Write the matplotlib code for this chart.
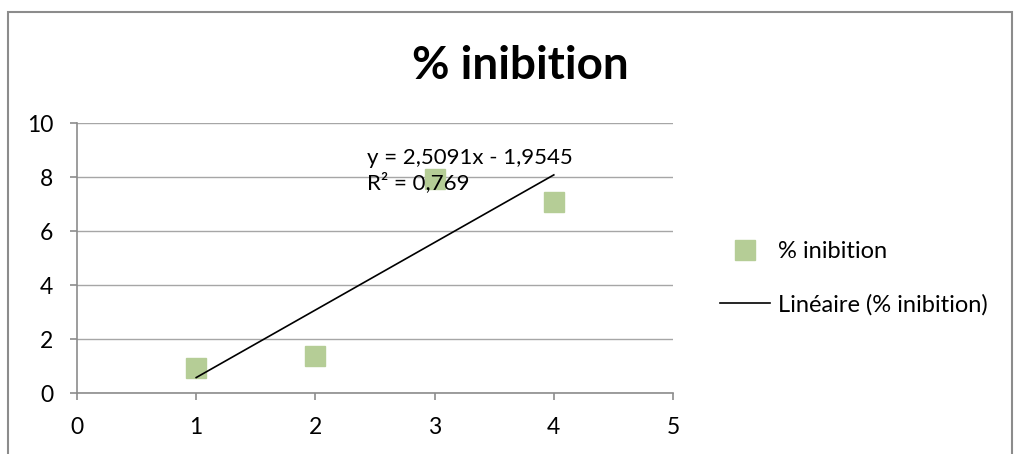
import matplotlib.pyplot as plt
import matplotlib.patches as patches
import numpy as np

plt.rcParams['font.family'] = ['Lato', 'DejaVu Sans']

# data
x = [1, 2, 3, 4]
inibition = [0.93, 1.37, 7.91, 7.09]
eq_lines = ['y = 2,5091x - 1,9545', 'R² = 0,769']

fig = plt.figure(figsize=(10.14, 4.54), dpi=100)
ax = fig.add_axes([77/1014, 61/454, 596/1014, 270/454])

# chart border (excel style)
border = patches.Rectangle((8/1014, -0.1), 1004/1014, 1.1 - 12/454,
                           transform=fig.transFigure, fill=False,
                           edgecolor='#8c8c8c', linewidth=1.5, clip_on=False)
fig.patches.append(border)

green = '#b5cd96'
ax.plot(x, inibition, 's', color=green, ms=14.5, label='% inibition', zorder=3)

# linear trend
a, b = np.polyfit(x, inibition, 1)
xt = np.array([x[0], x[-1]])
ax.plot(xt, a*xt + b, color='black', lw=1.2, label='Linéaire (% inibition)', zorder=4)

ax.text(2.433, 8.7, eq_lines[0], fontsize=16, va='center', ha='left', zorder=5)
ax.text(2.433, 7.78, eq_lines[1], fontsize=16, va='center', ha='left', zorder=5)

ax.set_xlim(0, 5)
ax.set_ylim(0, 10)
ax.set_xticks(range(0, 6))
ax.set_yticks(range(0, 11, 2))
ax.yaxis.grid(True, color='#a6a6a6', lw=1)
ax.set_axisbelow(True)
for s in ['top', 'right']:
    ax.spines[s].set_visible(False)
for s in ['left', 'bottom']:
    ax.spines[s].set_color('#8c8c8c')
    ax.spines[s].set_linewidth(1.2)
ax.tick_params(axis='both', colors='#8c8c8c', labelcolor='black', labelsize=16.5,
               length=5, width=1.2)
ax.tick_params(axis='x', pad=12)
ax.tick_params(axis='y', pad=12)

fig.text(520/1014, 1 - 66/454, '% inibition', fontsize=33, fontweight='bold',
         ha='center', va='center')

fig.legend(loc='center left', bbox_to_anchor=(720/1014, 1 - 278/454),
           frameon=False, fontsize=17, handlelength=2.1, labelspacing=1.35,
           handletextpad=0.35, borderpad=0, borderaxespad=0)

fig.savefig('out.png', dpi=100)
